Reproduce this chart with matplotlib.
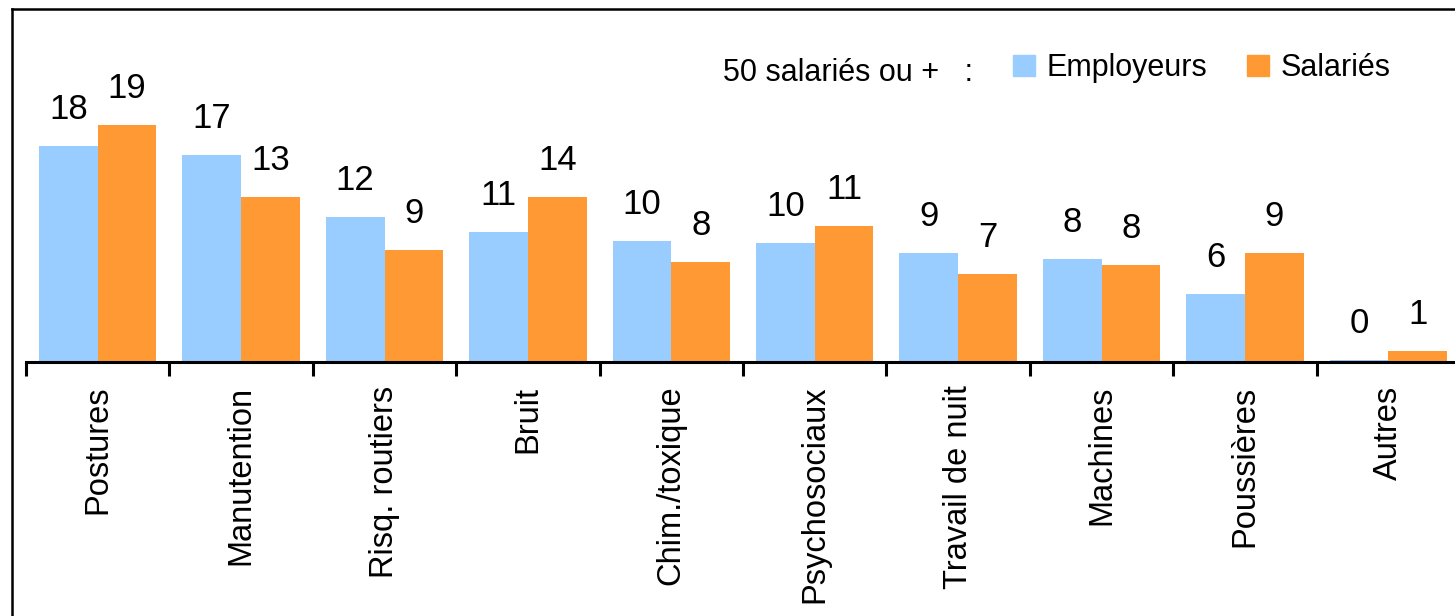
import matplotlib
matplotlib.use("Agg")
import matplotlib.pyplot as plt
from matplotlib.lines import Line2D
from matplotlib.patches import Patch
from matplotlib import font_manager

# categories and values (%), labels as printed
categories = ["Postures", "Manutention", "Risq. routiers", "Bruit", "Chim./toxique",
              "Psychosociaux", "Travail de nuit", "Machines", "Poussières", "Autres"]
employeurs = [17.7, 16.9, 11.9, 10.6, 9.9, 9.7, 8.9, 8.4, 5.6, 0.2]
salaries = [19.4, 13.5, 9.2, 13.5, 8.2, 11.1, 7.2, 7.9, 8.9, 0.9]
lab_employeurs = ["18", "17", "12", "11", "10", "10", "9", "8", "6", "0"]
lab_salaries = ["19", "13", "9", "14", "8", "11", "7", "8", "9", "1"]

blue = "#99CCFF"
orange = "#FF9933"

names = {f.name for f in font_manager.fontManager.ttflist}
if "Liberation Sans Narrow" in names:
    fam = ["Liberation Sans Narrow", "Liberation Sans", "DejaVu Sans"]
    fs_tick, fs_num, fs_leg = 29, 30, 26
else:
    fam = ["Liberation Sans", "DejaVu Sans"]
    fs_tick, fs_num, fs_leg = 23.5, 25, 22
plt.rcParams["font.family"] = fam

W, H = 1455, 616
fig = plt.figure(figsize=(W / 100, H / 100), dpi=100)
ax = fig.add_axes([26 / W, (H - 362) / H, 1434 / W, 353 / H])

x = list(range(len(categories)))
bw = 0.41
b1 = ax.bar([i - bw / 2 for i in x], employeurs, bw, color=blue, label="Employeurs")
b2 = ax.bar([i + bw / 2 for i in x], salaries, bw, color=orange, label="Salariés")

for bars, labs in ((b1, lab_employeurs), (b2, lab_salaries)):
    for r, t in zip(bars, labs):
        ax.annotate(t, (r.get_x() + r.get_width() / 2, r.get_height()),
                    xytext=(0, 27), textcoords="offset pixels",
                    ha="center", va="baseline", fontsize=fs_num)

ax.set_xlim(-0.5, len(categories) - 0.5)
ax.set_ylim(0, 353 / 12.22)

for s in ("top", "right", "left"):
    ax.spines[s].set_visible(False)
ax.spines["bottom"].set_linewidth(2.2)
ax.set_yticks([])
ax.set_xticks(x)
ax.set_xticklabels(categories, rotation=90, fontsize=fs_tick)
ax.tick_params(axis="x", which="major", length=0, pad=17)
ax.set_xticks([i - 0.5 for i in range(len(categories) + 1)], minor=True)
ax.tick_params(axis="x", which="minor", length=10, width=2.2, direction="out")

# legend
fig.text(723 / W, 1 - 73 / H, "50 salariés ou +   :", fontsize=fs_leg, va="center", ha="left")
handles = [Patch(color=blue), Patch(color=orange)]
fig.legend(handles, ["Employeurs", "Salariés"], loc="center left",
           bbox_to_anchor=(1001 / W, 1 - 68 / H), ncol=2, frameon=False,
           fontsize=fs_leg, handlelength=0.7, handleheight=0.7,
           handletextpad=0.4, columnspacing=1.3, borderaxespad=0)

# outer frame
fig.add_artist(Line2D([11.5 / W, 11.5 / W], [0, 1 - 9 / H], color="black", lw=1.8,
                      transform=fig.transFigure))
fig.add_artist(Line2D([11.5 / W, 1], [1 - 9 / H, 1 - 9 / H], color="black", lw=1.8,
                      transform=fig.transFigure))

fig.savefig("out.png", dpi=100)
